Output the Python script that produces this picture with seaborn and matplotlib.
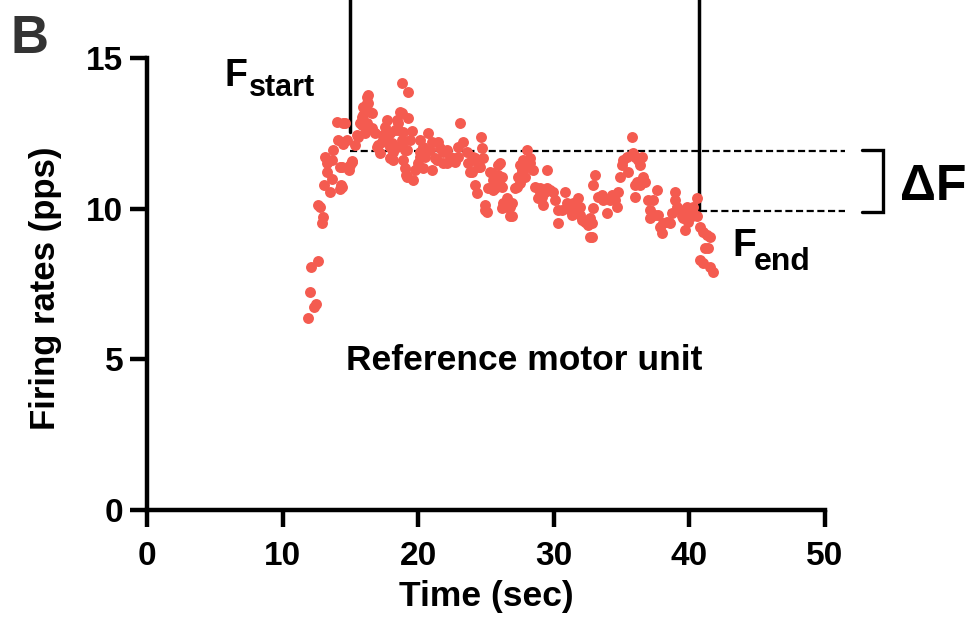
import matplotlib
matplotlib.use("Agg")
import matplotlib.pyplot as plt
import numpy as np
import pandas as pd
import seaborn as sns

# instantaneous discharge rate of the reference motor unit
time_s = [
    11.87, 12.0, 12.3, 12.46, 12.1, 12.6, 12.9, 13.0, 12.6, 12.75,
    13.05, 13.5, 13.64, 14.2, 14.3, 13.27, 13.13, 13.7, 13.64, 13.27,
    14.0, 14.45, 14.08, 14.45, 14.75, 14.97, 15.1, 14.9, 14.4, 14.23,
    14.38, 15.12, 14.82, 14.45, 14.6, 15.34, 15.5, 15.7, 15.85, 15.93,
    16.2, 16.3, 16.45, 16.6, 16.8, 16.3, 16.22, 15.93, 16.6, 15.85,
    16.22, 16.08, 15.56, 16.96, 17.18, 17.4, 17.7, 17.92, 18.14, 18.44,
    18.66, 18.5, 18.8, 18.88, 19.17, 19.25, 19.4, 18.8, 19.25, 18.8,
    18.88, 19.54, 19.03, 19.03, 19.1, 19.6, 19.76, 19.98, 20.35, 20.13,
    20.13, 20.72, 21.0, 20.5, 20.87, 21.24, 21.46, 21.6, 21.83, 22.12,
    22.35, 22.57, 22.71, 22.94, 23.08, 23.3, 23.6, 23.82, 23.97, 24.19,
    24.56, 24.7, 24.63, 24.78, 17.55, 17.4, 17.7, 17.92, 18.29, 18.5,
    18.07, 17.33, 17.04, 18.14, 17.92, 18.44, 18.8, 19.17, 19.98, 20.13,
    20.35, 21.02, 21.39, 21.83, 22.12, 22.49, 22.94, 23.67, 24.19, 24.34,
    24.93, 25.07, 25.15, 25.44, 25.52, 25.66, 25.88, 26.03, 26.25, 26.55,
    26.77, 24.04, 24.41, 23.97, 25.3, 25.88, 25.52, 24.93, 26.55, 26.92,
    26.92, 26.18, 26.03, 26.18, 26.18, 26.4, 26.77, 27.14, 27.36, 27.65,
    27.73, 28.02, 28.24, 28.1, 28.47, 27.88, 29.5, 27.51, 28.24, 27.65,
    27.29, 27.51, 28.61, 28.83, 28.98, 29.2, 29.35, 29.72, 29.94, 30.09,
    30.31, 30.31, 30.6, 30.83, 30.97, 31.19, 31.34, 31.56, 31.78, 31.93,
    32.08, 32.3, 32.52, 32.67, 32.82, 32.89, 28.98, 29.13, 29.5, 31.42,
    31.71, 31.93, 32.45, 32.67, 32.82, 33.04, 32.89, 33.26, 33.63, 33.92,
    34.14, 33.55, 34.29, 34.51, 34.73, 34.66, 34.88, 35.03, 35.1, 35.4,
    35.47, 35.77, 35.84, 35.99, 36.21, 36.36, 36.5, 36.58, 36.73, 35.99,
    36.14, 35.99, 36.36, 36.95, 37.09, 37.32, 37.61, 37.09, 37.46, 37.68,
    37.83, 37.98, 38.05, 38.35, 38.57, 38.72, 38.94, 38.94, 39.09, 39.31,
    39.45, 39.53, 39.68, 39.82, 39.9, 40.04, 40.19, 40.27, 40.56, 40.56,
    40.78, 41.0, 41.3, 41.52, 41.15, 41.37, 40.78, 41.0, 41.52, 41.74,
]
rate_pps = [
    6.36, 7.25, 6.75, 6.82, 8.08, 8.25, 9.54, 9.73, 10.13, 10.07,
    10.8, 10.56, 11.0, 10.66, 10.8, 11.22, 11.72, 11.95, 11.62, 11.52,
    12.88, 12.85, 12.28, 12.15, 12.28, 11.46, 11.59, 11.29, 11.39, 11.39,
    10.73, 11.56, 11.36, 12.22, 12.85, 12.12, 12.45, 12.85, 13.05, 13.38,
    13.7, 13.5, 13.2, 12.68, 12.52, 13.77, 13.5, 13.11, 13.18, 12.78,
    12.85, 12.52, 12.38, 12.05, 11.85, 12.28, 12.95, 12.05, 11.62, 12.95,
    13.21, 12.62, 12.28, 11.62, 11.95, 13.01, 12.28, 14.17, 13.87, 13.18,
    12.55, 12.58, 11.95, 11.36, 11.13, 10.96, 11.29, 11.39, 11.36, 11.72,
    12.28, 12.52, 11.29, 11.72, 11.95, 11.69, 12.22, 12.02, 11.52, 11.95,
    11.72, 11.69, 11.56, 12.05, 12.85, 12.22, 11.89, 11.22, 11.62, 11.69,
    11.39, 12.02, 12.38, 11.69, 12.72, 12.45, 12.35, 12.52, 12.62, 12.85,
    12.19, 12.22, 12.12, 11.89, 11.69, 12.05, 12.19, 11.06, 11.52, 11.89,
    12.05, 12.22, 11.62, 11.89, 11.52, 11.62, 11.72, 11.52, 10.8, 10.53,
    10.13, 9.9, 10.7, 11.19, 10.96, 10.7, 11.46, 10.8, 10.2, 10.36,
    9.74, 11.72, 11.39, 11.22, 11.22, 11.13, 10.63, 9.97, 10.07, 10.2,
    9.74, 10.03, 11.52, 11.06, 10.73, 10.2, 10.07, 10.7, 11.06, 11.29,
    11.62, 11.95, 11.69, 11.39, 11.29, 11.06, 11.29, 11.46, 11.52, 11.19,
    10.73, 10.86, 10.73, 10.36, 10.7, 10.13, 10.56, 10.63, 10.56, 10.3,
    9.97, 9.54, 9.97, 10.56, 10.2, 9.97, 9.8, 10.07, 10.36, 9.8,
    9.64, 9.57, 9.47, 9.7, 9.07, 10.03, 10.56, 10.4, 10.7, 10.2,
    9.87, 10.07, 9.54, 9.07, 9.54, 11.13, 10.8, 10.4, 10.3, 9.87,
    10.3, 10.46, 10.46, 10.3, 10.56, 10.07, 11.06, 11.46, 11.62, 11.72,
    11.22, 12.38, 11.85, 11.72, 11.62, 11.46, 11.72, 11.06, 10.89, 10.8,
    10.89, 10.4, 10.8, 10.3, 9.97, 10.3, 10.63, 9.7, 9.8, 9.8,
    9.4, 9.2, 9.54, 9.57, 9.54, 9.87, 10.56, 10.3, 10.07, 9.97,
    9.74, 9.7, 9.3, 10.07, 9.57, 9.87, 9.74, 10.07, 10.36, 9.74,
    9.4, 9.24, 9.14, 9.07, 8.71, 8.71, 8.31, 8.21, 8.08, 7.91,
]

# annotation values
t_start, t_end = 14.97, 40.7
f_start, f_end = 11.9, 9.93

df = pd.DataFrame({"time": time_s, "rate": rate_pps})

sns.set_style("ticks")
plt.rcParams['font.family'] = ['Liberation Sans', 'DejaVu Sans']
plt.rcParams['font.weight'] = 'bold'
plt.rcParams['text.color'] = 'black'
plt.rcParams['axes.labelcolor'] = 'black'
plt.rcParams['xtick.color'] = 'black'
plt.rcParams['ytick.color'] = 'black'

fig = plt.figure(figsize=(9.71, 6.21), dpi=100)
ax = fig.add_axes([0.1514, 0.1788, 0.6983, 0.7278])

sns.scatterplot(data=df, x="time", y="rate", color="#f45b50", s=62,
                linewidth=0, alpha=1, ax=ax, zorder=3)

ax.set_xlim(0, 50)
ax.set_ylim(0, 15)
ax.set_xticks([0, 10, 20, 30, 40, 50])
ax.set_yticks([0, 5, 10, 15])
sns.despine(ax=ax)
for side in ['left', 'bottom']:
    ax.spines[side].set_linewidth(3.2)
    ax.spines[side].set_color('black')
ax.tick_params(axis='both', length=12, width=3.2, color='black',
               labelsize=24, labelcolor='black')
ax.tick_params(axis='x', pad=10)
ax.tick_params(axis='y', pad=5)
for lab in ax.get_xticklabels() + ax.get_yticklabels():
    lab.set_fontweight('bold')

ax.set_xlabel("Time (sec)", fontsize=25.5, fontweight='bold', color='black')
ax.set_ylabel("Firing rates (pps)", fontsize=25, fontweight='bold', color='black')
ax.xaxis.set_label_coords(0.5, -0.155)
ax.yaxis.set_label_coords(-0.125, 0.49)

# F_start / F_end markers
ax.plot([t_start, t_start], [12.55, 17.5], color='black', lw=2.5, clip_on=False)
ax.plot([t_end, t_end], [f_end, 17.5], color='black', lw=2.5, clip_on=False)
ax.plot([t_start, 51.5], [f_start, f_start], color='black', lw=1.6,
        dashes=(3.2, 1.6), clip_on=False)
ax.plot([38.4, 51.5], [f_end, f_end], color='black', lw=1.6,
        dashes=(3.2, 1.6), clip_on=False)

# bracket for delta F
ax.plot([52.7, 54.3, 54.3, 52.7], [f_start + 0.05, f_start + 0.05, f_end - 0.05, f_end - 0.05],
        color='black', lw=2.4, clip_on=False, solid_joinstyle='miter')

ax.text(5.75, 14.07, "F", fontsize=27, fontweight='bold', va='baseline')
ax.text(7.5, 13.74, "start", fontsize=22, fontweight='bold', va='baseline')
ax.text(43.2, 8.44, "F", fontsize=28, fontweight='bold', va='baseline', clip_on=False)
ax.text(44.75, 7.98, "end", fontsize=23, fontweight='bold', va='baseline', clip_on=False)
ax.text(55.5, 10.3, "ΔF", fontsize=36, fontweight='bold', va='baseline', clip_on=False)
ax.text(27.8, 4.64, "Reference motor unit", fontsize=25.5, fontweight='bold',
        ha='center', va='baseline')

fig.text(10 / 971, 1 - 53 / 621, "B", fontsize=38, fontweight='bold',
         color='#333333', va='baseline', ha='left')

fig.savefig("out.png", dpi=100)
